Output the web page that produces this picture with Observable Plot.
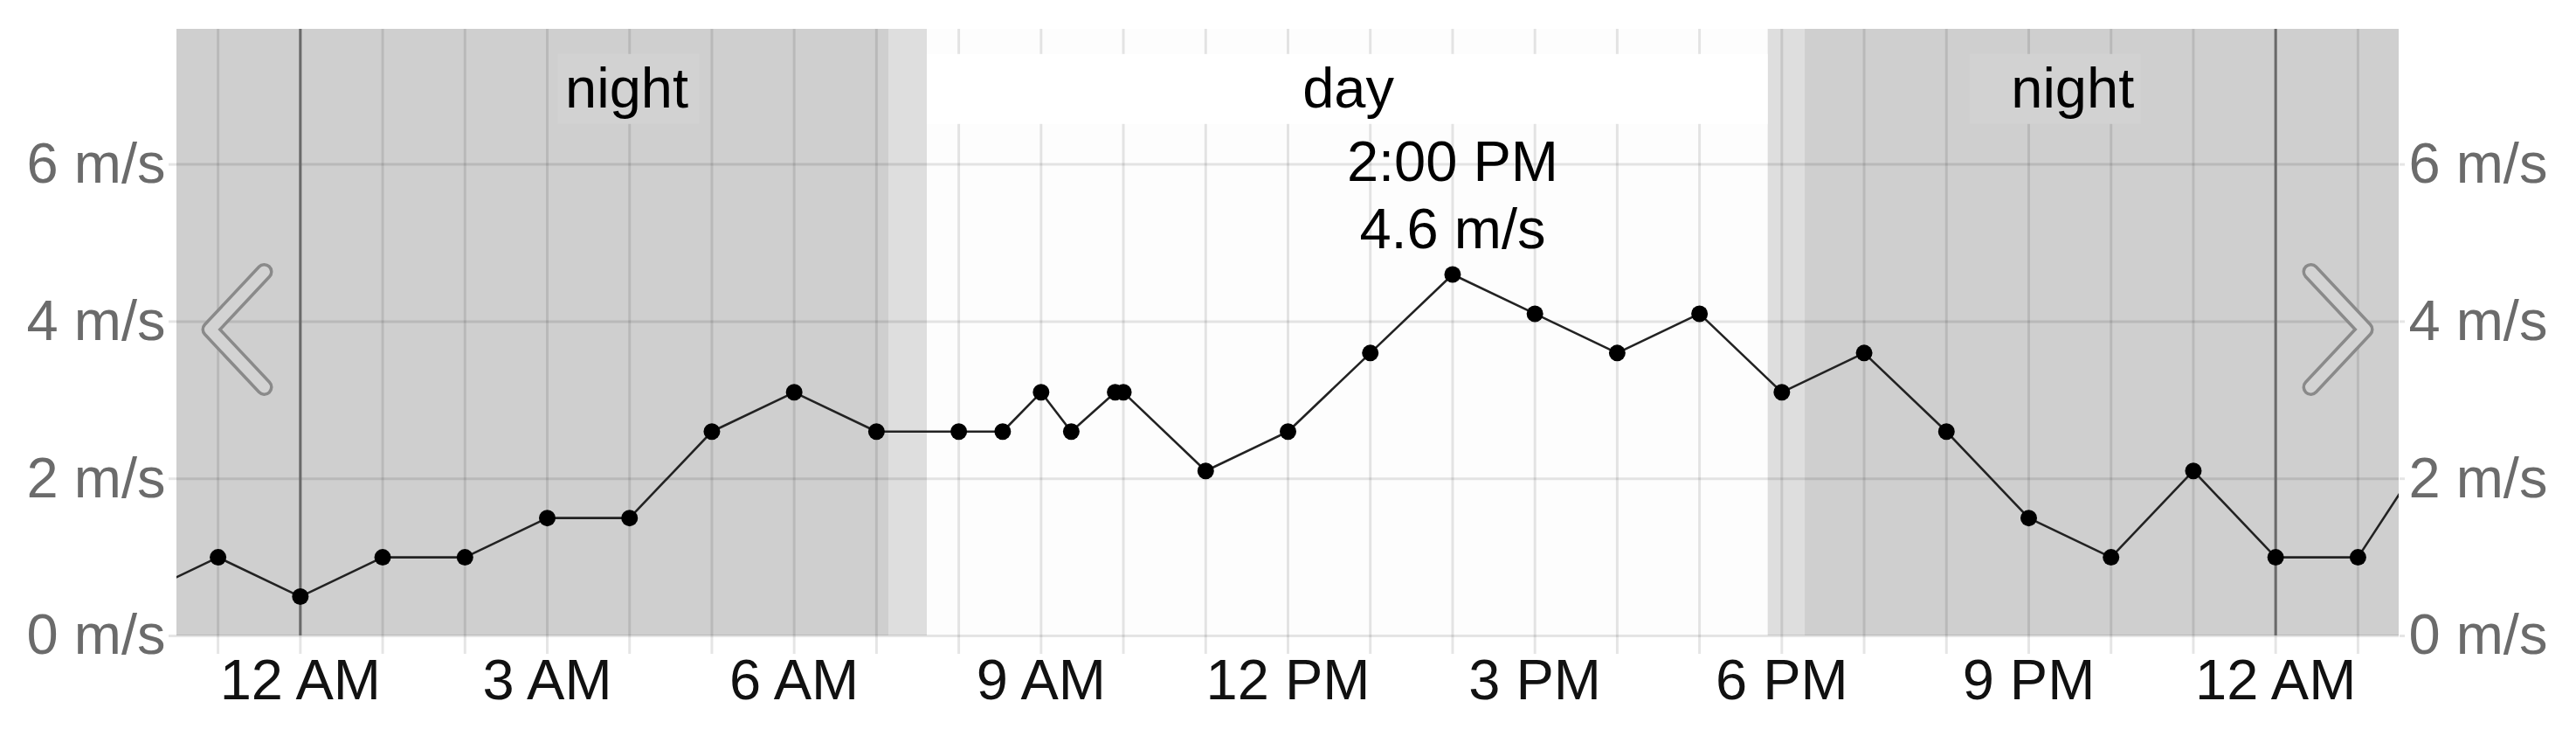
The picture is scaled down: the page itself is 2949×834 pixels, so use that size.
<!DOCTYPE html>
<html><head><meta charset="utf-8">
<script src="https://cdn.jsdelivr.net/npm/d3@7"></script>
<script src="https://cdn.jsdelivr.net/npm/@observablehq/plot@0.6"></script>
<style>html,body{margin:0;padding:0;background:#fff;} #chart svg{display:block;}</style>
</head><body><div id="chart"></div>
<script>
// ---- data ----
const times = [
  "2024-01-13T22:00Z","2024-01-13T23:00Z",
  "2024-01-14T00:00Z","2024-01-14T01:00Z","2024-01-14T02:00Z","2024-01-14T03:00Z",
  "2024-01-14T04:00Z","2024-01-14T05:00Z","2024-01-14T06:00Z","2024-01-14T07:00Z",
  "2024-01-14T08:00Z","2024-01-14T08:32Z","2024-01-14T09:00Z","2024-01-14T09:22Z",
  "2024-01-14T09:54Z","2024-01-14T10:00Z","2024-01-14T11:00Z","2024-01-14T12:00Z",
  "2024-01-14T13:00Z","2024-01-14T14:00Z","2024-01-14T15:00Z","2024-01-14T16:00Z",
  "2024-01-14T17:00Z","2024-01-14T18:00Z","2024-01-14T19:00Z","2024-01-14T20:00Z",
  "2024-01-14T21:00Z","2024-01-14T22:00Z","2024-01-14T23:00Z",
  "2024-01-15T00:00Z","2024-01-15T01:00Z","2024-01-15T02:00Z"
];
const speeds = [
  0.5, 1.0,
  0.5, 1.0, 1.0, 1.5,
  1.5, 2.6, 3.1, 2.6,
  2.6, 2.6, 3.1, 2.6,
  3.1, 3.1, 2.1, 2.6,
  3.6, 4.6, 4.1, 3.6,
  4.1, 3.1, 3.6, 2.6,
  1.5, 1.0, 2.1,
  1.0, 1.0, 2.6
];
const periodKinds  = ["night", "twilight", "day", "twilight", "night"];
const periodStarts = ["2024-01-13T18:17Z","2024-01-14T07:09Z","2024-01-14T07:37Z","2024-01-14T17:50Z","2024-01-14T18:17Z"];
const periodEnds   = ["2024-01-14T07:09Z","2024-01-14T07:37Z","2024-01-14T17:50Z","2024-01-14T18:17Z","2024-01-15T07:09Z"];
const periodColors = {night: "#cfcfcf", twilight: "#dedede", day: "#fdfdfd"};

const labelTexts     = ["night", "day", "night"];
const labelTimes     = ["2024-01-14T03:58Z","2024-01-14T12:44Z","2024-01-14T21:32Z"];
const labelBoxStarts = ["2024-01-14T03:08Z","2024-01-14T07:37Z","2024-01-14T20:17Z"];
const labelBoxEnds   = ["2024-01-14T04:51Z","2024-01-14T17:50Z","2024-01-14T22:22Z"];
const labelBoxFills  = ["#d2d2d2","#ffffff","#d2d2d2"];
const labelBoxLow = 6.51, labelBoxHigh = 7.40;

const yTicks = [0, 2, 4, 6];
const xLabelTicks = ["2024-01-14T00:00Z","2024-01-14T03:00Z","2024-01-14T06:00Z","2024-01-14T09:00Z",
  "2024-01-14T12:00Z","2024-01-14T15:00Z","2024-01-14T18:00Z","2024-01-14T21:00Z","2024-01-15T00:00Z"];
const midnights = ["2024-01-14T00:00Z","2024-01-15T00:00Z"];
const xDomain = ["2024-01-13T22:30Z","2024-01-15T01:30Z"];
const yDomain = [0, 7.72];
const tooltipTime = "2024-01-14T14:00Z";
const navArrowLevel = [3.9];

// ---- build ----
const P = d3.isoParse;
const data = times.map((t, i) => ({time: P(t), speed: speeds[i]}));
const periods = periodKinds.map((k, i) => ({kind: k, start: P(periodStarts[i]), end: P(periodEnds[i])}));
const labels = labelTexts.map((t, i) => ({text: t, time: P(labelTimes[i]), x1: P(labelBoxStarts[i]), x2: P(labelBoxEnds[i]), fill: labelBoxFills[i]}));
const dom = xDomain.map(P);
const hourly = d3.utcHour.range(dom[0], dom[1]);
const threeHourly = xLabelTicks.map(P);
const tip = data.filter(d => +d.time === +P(tooltipTime));
const fmtTime = d3.utcFormat("%-I:%M %p");

const chevronLeft = {draw(ctx) { ctx.moveTo(31, -66); ctx.lineTo(-31, 0); ctx.lineTo(31, 66); }};
const chevronRight = {draw(ctx) { ctx.moveTo(-31, -66); ctx.lineTo(31, 0); ctx.lineTo(-31, 66); }};
const chevron = (symbol, anchor, dx) => [
  Plot.dot(navArrowLevel, {y: d => d, frameAnchor: anchor, dx, symbol, r: 10, fill: "none",
    stroke: "#8a8a8a", strokeWidth: 20, strokeLinecap: "round", strokeLinejoin: "round"}),
  Plot.dot(navArrowLevel, {y: d => d, frameAnchor: anchor, dx, symbol, r: 10, fill: "none",
    stroke: "#d3d3d3", strokeWidth: 13, strokeLinecap: "round", strokeLinejoin: "round"})
];

const grid = {stroke: "#000", strokeOpacity: 0.1, strokeWidth: 3};

const chart = Plot.plot({
  width: 2949,
  height: 834,
  marginTop: 33,
  marginBottom: 107,
  marginLeft: 202,
  marginRight: 203,
  style: {fontFamily: "'Liberation Sans', Arial, sans-serif", fontSize: "65px", background: "#fff", overflow: "visible"},
  x: {type: "utc", domain: dom},
  y: {domain: yDomain},
  color: {type: "identity"},
  marks: [
    Plot.rect(periods, {x1: "start", x2: "end", fill: d => periodColors[d.kind], clip: true}),
    Plot.gridX(hourly, grid),
    Plot.gridY(yTicks, grid),
    Plot.ruleX(midnights.map(P), {stroke: "#6a6a6a", strokeWidth: 3}),
    Plot.rect(labels, {x1: "x1", x2: "x2", y1: labelBoxLow, y2: labelBoxHigh, fill: "fill", clip: true}),
    Plot.text(labels, {x: "time", text: "text", frameAnchor: "top", lineAnchor: "bottom", dy: 89, fill: "#000", fontSize: 65}),
    Plot.line(data, {x: "time", y: "speed", stroke: "#222", strokeWidth: 2.6, clip: true}),
    Plot.dot(data, {x: "time", y: "speed", r: 9.5, fill: "#000", clip: true}),
    Plot.text(tip, {x: "time", y: "speed", text: d => `${fmtTime(d.time)}\n${d.speed} m/s`,
      lineAnchor: "bottom", lineHeight: 1.18, dy: -30, fill: "#000", fontSize: 65}),
    ...chevron(chevronLeft, "left", 69),
    ...chevron(chevronRight, "right", -70),
    Plot.axisX(hourly, {tickSize: 21, tickFormat: () => "", label: null, ...grid}),
    Plot.axisX(threeHourly, {tickSize: 0, tickPadding: 26, tickFormat: d3.utcFormat("%-I %p"), label: null, color: "#111", fontSize: 65}),
    Plot.axisY(yTicks, {anchor: "left", tickSize: 9, tickPadding: 4, tickFormat: d => `${d} m/s`, label: null,
      color: "#6b6b6b", ...grid, fontSize: 65}),
    Plot.axisY(yTicks, {anchor: "right", tickSize: 6, tickPadding: 5, tickFormat: d => `${d} m/s`, label: null,
      color: "#6b6b6b", ...grid, fontSize: 65})
  ]
});
document.getElementById("chart").append(chart);
</script>
</body></html>
